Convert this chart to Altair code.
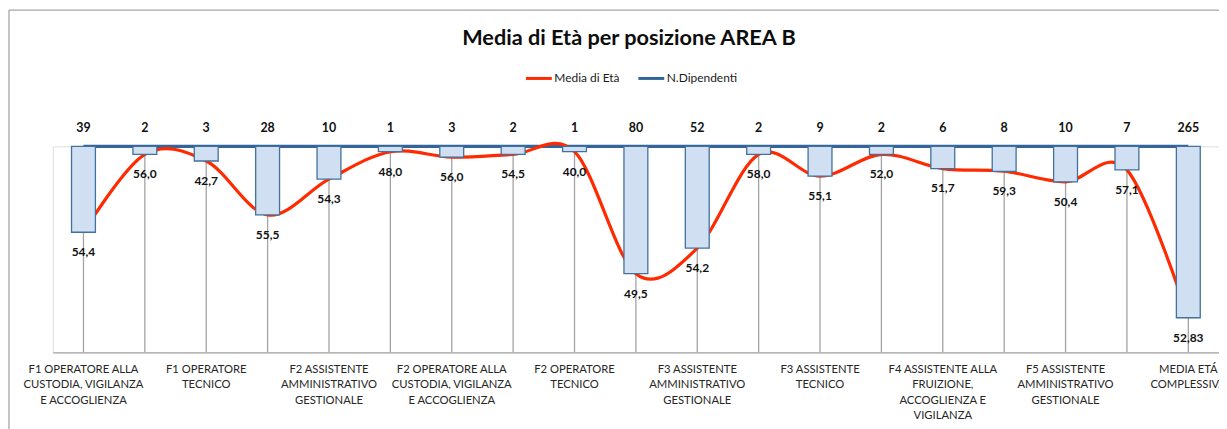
import altair as alt
import pandas as pd

# ---- data ----
categorie = [
    "F1 OPERATORE ALLA|CUSTODIA, VIGILANZA|E ACCOGLIENZA",
    "F1 OPERATORE|AMMINISTRATIVO",
    "F1 OPERATORE|TECNICO",
    "F2 ASSISTENTE ALLA|FRUIZIONE,|ACCOGLIENZA E|VIGILANZA",
    "F2 ASSISTENTE|AMMINISTRATIVO|GESTIONALE",
    "F2 ASSISTENTE|TECNICO",
    "F2 OPERATORE ALLA|CUSTODIA, VIGILANZA|E ACCOGLIENZA",
    "F2 OPERATORE|AMMINISTRATIVO",
    "F2 OPERATORE|TECNICO",
    "F3 ASSISTENTE ALLA|FRUIZIONE,|ACCOGLIENZA E|VIGILANZA",
    "F3 ASSISTENTE|AMMINISTRATIVO|GESTIONALE",
    "F3 ASSISTENTE|INFORMATICO",
    "F3 ASSISTENTE|TECNICO",
    "F3 ASSISTENTE|TECNICO INFORMATICO",
    "F4 ASSISTENTE ALLA|FRUIZIONE,|ACCOGLIENZA E|VIGILANZA",
    "F4 ASSISTENTE|AMMINISTRATIVO|GESTIONALE",
    "F5 ASSISTENTE|AMMINISTRATIVO|GESTIONALE",
    "F5 ASSISTENTE ALLA|FRUIZIONE,|ACCOGLIENZA E|VIGILANZA",
    "MEDIA ETÁ|COMPLESSIVA",
]
n_dipendenti = [39, 2, 3, 28, 10, 1, 3, 2, 1, 80, 52, 2, 9, 2, 6, 8, 10, 7, 265]
media_eta = [54.4, 56.0, 42.7, 55.5, 54.3, 48.0, 56.0, 54.5, 40.0, 49.5,
             54.2, 58.0, 55.1, 52.0, 51.7, 59.3, 50.4, 57.1, 52.83]
# level of the plotted red series on the chart's hidden axis (0 = top line, 100 = category axis)
livello = [41.7, 3.9, 7.1, 33.3, 15.9, 2.6, 5.2, 3.9, 2.6, 61.8,
           49.4, 3.9, 14.5, 3.9, 10.8, 12.1, 17.2, 11.4, 83.2]
serie = ["Media di Età", "N.Dipendenti"]
etichette_visibili = categorie[::2]


def fmt(v):
    s = f"{v:.1f}" if round(v, 1) == v else f"{v:.2f}"
    return s.replace(".", ",")


df = pd.DataFrame({
    "categoria": categorie,
    "n": n_dipendenti,
    "eta": media_eta,
    "eta_txt": [fmt(v) for v in media_eta],
    "livello": livello,
})

FONT = "Lato"
RED = "#ff2a00"
BLUE = "#33659b"

x = alt.X("categoria:N", sort=categorie,
          scale=alt.Scale(domain=categorie, paddingInner=0.1),
          axis=alt.Axis(values=etichette_visibili, title=None,
                        labelExpr="split(datum.label, '|')",
                        ticks=False, grid=False, labelAngle=0,
                        labelFont=FONT, labelFontSize=11.3,
                        labelColor="#262626", labelLineHeight=15.6,
                        labelPadding=11, labelBaseline="top",
                        labelLimit=0, labelOverlap=False, labelFlush=False,
                        domainColor="#a6a6a6", domainWidth=1.3))
yscale = alt.Scale(domain=[0, 100], reverse=True, nice=False, zero=False)
y = alt.Y("livello:Q", scale=yscale, axis=None)

colore = alt.Color("serie:N",
                   scale=alt.Scale(domain=serie, range=[RED, BLUE]),
                   legend=alt.Legend(title=None, orient="none",
                                     direction="horizontal",
                                     legendX=474, legendY=-83,
                                     symbolType="stroke", symbolSize=676,
                                     symbolStrokeWidth=3,
                                     labelFont=FONT, labelFontSize=12,
                                     labelColor="#1a1a1a", labelOffset=1,
                                     columnPadding=12, padding=0))

base = alt.Chart(df)

frame_df = pd.DataFrame({"k": [0]})
frame_top = alt.Chart(frame_df).mark_rule(color="#a6a6a6", strokeWidth=1.3).encode(
    x=alt.value(-44), x2=alt.value(1200), y=alt.value(-137))
frame_left = alt.Chart(frame_df).mark_rule(color="#a6a6a6", strokeWidth=1.3).encode(
    x=alt.value(-44), y=alt.value(-137), y2=alt.value(400))

drop = base.mark_rule(color="#a3a3a3", strokeWidth=1.3).encode(
    x=x, y=y, y2=alt.Y2(datum=100))

blue_line = base.transform_calculate(serie="'N.Dipendenti'").mark_line(
    strokeWidth=3.2).encode(x=x, y=alt.Y(datum=0, scale=yscale, axis=None),
                            color=colore)

red_line = base.transform_calculate(serie="'Media di Età'").mark_line(
    strokeWidth=3.2, interpolate="cardinal", tension=0).encode(
    x=x, y=y, color=colore)

bars = base.mark_bar(size=24, fill="#d0e0f2", stroke="#41719c",
                     strokeWidth=1.3).encode(x=x, y=y, y2=alt.Y2(datum=0))

n_txt = base.mark_text(font=FONT, fontSize=12.5, fontWeight="bold",
                       color="#111111", baseline="middle", dy=-18).encode(
    x=x, y=alt.Y(datum=0, scale=yscale, axis=None), text="n:Q")

eta_txt = base.mark_text(font=FONT, fontSize=12, fontWeight="bold",
                         color="#111111", baseline="middle", dy=20).encode(
    x=x, y=y, text="eta_txt:N")

chart = alt.layer(
    frame_top, frame_left, drop, blue_line, red_line, bars, n_txt, eta_txt
).properties(
    width=1172, height=207,
    autosize=alt.AutoSizeParams(type="none"),
    padding={"left": 45, "top": 138, "right": 0, "bottom": 76},
    title=alt.TitleParams("Media di Età per posizione AREA B", font=FONT,
                          fontSize=21.8, fontWeight="bold", color="#0d0d0d",
                          anchor="middle", frame="group", dx=-7, offset=0,
                          dy=41),
).configure_view(stroke=None).configure(background="white")

chart.save("out.html", embed_options={"renderer": "svg", "actions": False})
